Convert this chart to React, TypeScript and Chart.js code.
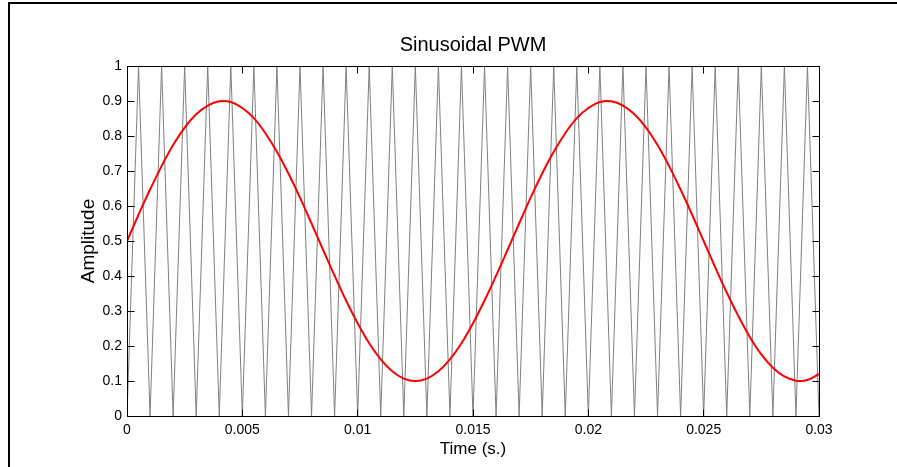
import React, { useEffect, useRef } from 'react';
import { Chart, registerables } from 'chart.js';

Chart.register(...registerables);

const FONT = '"Liberation Sans", Arial, Helvetica, sans-serif';

// Sample times (s)
const timeS = [
  0, 0.0005, 0.001, 0.0015, 0.002, 0.0025, 0.003, 0.0035, 0.004, 0.0045,
  0.005, 0.0055, 0.006, 0.0065, 0.007, 0.0075, 0.008, 0.0085, 0.009, 0.0095,
  0.01, 0.0105, 0.011, 0.0115, 0.012, 0.0125, 0.013, 0.0135, 0.014, 0.0145,
  0.015, 0.0155, 0.016, 0.0165, 0.017, 0.0175, 0.018, 0.0185, 0.019, 0.0195,
  0.02, 0.0205, 0.021, 0.0215, 0.022, 0.0225, 0.023, 0.0235, 0.024, 0.0245,
  0.025, 0.0255, 0.026, 0.0265, 0.027, 0.0275, 0.028, 0.0285, 0.029, 0.0295,
  0.03,
];

// Triangular carrier vertices (amplitude)
const carrierValues = [
  0, 1, 0, 1, 0, 1, 0, 1, 0, 1,
  0, 1, 0, 1, 0, 1, 0, 1, 0, 1,
  0, 1, 0, 1, 0, 1, 0, 1, 0, 1,
  0, 1, 0, 1, 0, 1, 0, 1, 0, 1,
  0, 1, 0, 1, 0, 1, 0, 1, 0, 1,
  0, 1, 0, 1, 0, 1, 0, 1, 0, 1,
  0,
];

// Sinusoidal reference (amplitude)
const sineValues = [
  0.5, 0.575, 0.647, 0.714, 0.774, 0.824, 0.862, 0.887, 0.899, 0.897,
  0.88, 0.851, 0.808, 0.755, 0.693, 0.624, 0.55, 0.475, 0.401, 0.33,
  0.265, 0.208, 0.162, 0.128, 0.107, 0.1, 0.107, 0.128, 0.162, 0.208,
  0.265, 0.33, 0.401, 0.475, 0.55, 0.624, 0.693, 0.755, 0.808, 0.851,
  0.88, 0.897, 0.899, 0.887, 0.862, 0.824, 0.774, 0.714, 0.647, 0.575,
  0.5, 0.425, 0.353, 0.286, 0.226, 0.176, 0.138, 0.113, 0.101, 0.103,
  0.12,
];

const xTickValues = [0, 0.005, 0.01, 0.015, 0.02, 0.025, 0.03];
const xTickLabels = ['0', '0.005', '0.01', '0.015', '0.02', '0.025', '0.03'];
const yTickValues = [0, 0.1, 0.2, 0.3, 0.4, 0.5, 0.6, 0.7, 0.8, 0.9, 1];
const yTickLabels = ['0', '0.1', '0.2', '0.3', '0.4', '0.5', '0.6', '0.7', '0.8', '0.9', '1'];

const framePlugin = {
  id: 'matlabFrame',
  beforeDraw(chart: any) {
    const ctx = chart.ctx;
    ctx.save();
    ctx.fillStyle = '#ffffff';
    ctx.fillRect(0, 0, chart.width, chart.height);
    ctx.fillStyle = '#000000';
    ctx.fillRect(8, 2, chart.width - 8, 2);
    ctx.fillRect(8, 2, 2, chart.height - 2);
    ctx.restore();
  },
  afterDraw(chart: any) {
    const { ctx, chartArea, scales } = chart;
    const L = Math.floor(chartArea.left) + 0.5;
    const R = Math.floor(chartArea.right) + 0.5;
    const T = Math.floor(chartArea.top) + 0.5;
    const B = Math.floor(chartArea.bottom) + 0.5;
    const len = 7;
    ctx.save();
    ctx.strokeStyle = '#000000';
    ctx.lineWidth = 1;
    ctx.beginPath();
    ctx.rect(L, T, R - L, B - T);
    xTickValues.forEach((v) => {
      const px = Math.floor(scales.x.getPixelForValue(v)) + 0.5;
      ctx.moveTo(px, B);
      ctx.lineTo(px, B - len);
      ctx.moveTo(px, T);
      ctx.lineTo(px, T + len);
    });
    yTickValues.forEach((v) => {
      const py = Math.floor(scales.y.getPixelForValue(v)) + 0.5;
      ctx.moveTo(L, py);
      ctx.lineTo(L + len, py);
      ctx.moveTo(R, py);
      ctx.lineTo(R - len, py);
    });
    ctx.stroke();
    ctx.restore();
  },
};

export default function App() {
  const canvasRef = useRef<HTMLCanvasElement | null>(null);

  useEffect(() => {
    const canvas = canvasRef.current;
    if (!canvas) return;

    const sinePoints = timeS.map((t, i) => ({ x: t, y: sineValues[i] }));
    const carrierPoints = timeS.map((t, i) => ({ x: t, y: carrierValues[i] }));

    const chart = new Chart(canvas, {
      type: 'line',
      data: {
        datasets: [
          {
            label: 'Reference',
            data: sinePoints,
            borderColor: '#ff0000',
            borderWidth: 2,
            pointRadius: 0,
            tension: 0.4,
            fill: false,
          },
          {
            label: 'Carrier',
            data: carrierPoints,
            borderColor: '#808080',
            borderWidth: 1,
            pointRadius: 0,
            tension: 0,
            fill: false,
          },
        ],
      },
      options: {
        animation: false,
        responsive: false,
        maintainAspectRatio: false,
        layout: { padding: { left: 0, right: 78, top: 0, bottom: 0 } },
        plugins: {
          legend: { display: false },
          tooltip: { enabled: false },
          title: {
            display: true,
            text: 'Sinusoidal PWM',
            color: '#000000',
            fullSize: false,
            font: { family: FONT, size: 20, weight: 'normal' },
            padding: { top: 33, bottom: 9 },
          },
        },
        scales: {
          x: {
            type: 'linear',
            min: 0,
            max: 0.03,
            grid: { display: false, drawTicks: false },
            border: { display: false },
            afterBuildTicks: (scale: any) => {
              scale.ticks = xTickValues.map((v) => ({ value: v }));
            },
            afterFit: (scale: any) => {
              scale.height = 51;
            },
            ticks: {
              color: '#000000',
              padding: 6,
              maxRotation: 0,
              autoSkip: false,
              font: { family: FONT, size: 14 },
              callback: (_v: any, i: number) => xTickLabels[i],
            },
            title: {
              display: true,
              text: 'Time (s.)',
              color: '#000000',
              font: { family: FONT, size: 17 },
              padding: { top: 0, bottom: 7 },
            },
          },
          y: {
            type: 'linear',
            min: 0,
            max: 1,
            grid: { display: false, drawTicks: false },
            border: { display: false },
            afterBuildTicks: (scale: any) => {
              scale.ticks = yTickValues.map((v) => ({ value: v }));
            },
            afterFit: (scale: any) => {
              scale.width = 127;
            },
            ticks: {
              color: '#000000',
              padding: 5,
              autoSkip: false,
              font: { family: FONT, size: 14 },
              callback: (_v: any, i: number) => yTickLabels[i],
            },
            title: {
              display: true,
              text: 'Amplitude',
              color: '#000000',
              font: { family: FONT, size: 19 },
              padding: { top: 77, bottom: 0 },
            },
          },
        },
      },
      plugins: [framePlugin],
    });

    return () => {
      chart.destroy();
    };
  }, []);

  return (
    <canvas
      ref={canvasRef}
      width={897}
      height={467}
      style={{ position: 'absolute', left: 0, top: 0, display: 'block' }}
    />
  );
}
